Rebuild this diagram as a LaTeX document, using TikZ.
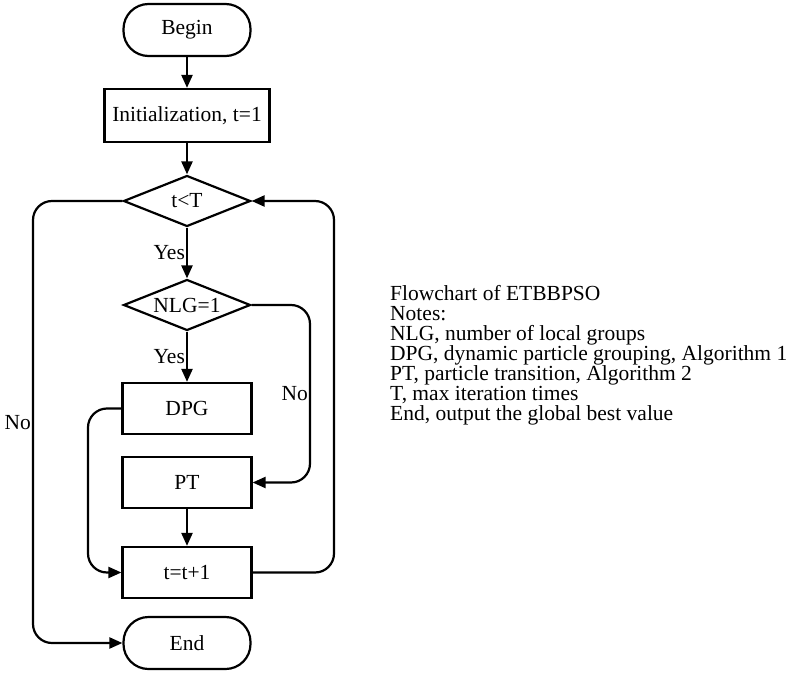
\documentclass[tikz,border=0pt]{standalone}
\usepackage{fontspec}
\setmainfont{Liberation Serif}
\usetikzlibrary{arrows.meta,shapes.geometric}
\begin{document}
\begin{tikzpicture}[x=1pt,y=-1pt,
  every node/.style={font=\fontsize{21.5}{20}\selectfont},
  arr/.style={line width=2.2pt,-{Triangle[length=13pt,width=11pt]}},
  term/.style={draw,line width=2.2pt,rounded corners=25pt,minimum width=127pt,minimum height=52pt,inner sep=0pt},
  box/.style={draw,line width=2.2pt,minimum width=129pt,minimum height=51pt,inner sep=0pt},
  dec/.style={draw,line width=2.2pt,diamond,aspect=2.5,minimum width=127pt,minimum height=51pt,inner sep=0pt},
  lbl/.style={inner sep=1pt}]
\useasboundingbox (0,0) rectangle (800,674);
\node[term] (begin) at (187,30) {Begin};
\node[box,minimum width=165pt,minimum height=53pt] (init) at (187,115.5) {Initialization, t=1};
\node[dec] (tT) at (187,201) {t<T};
\node[dec] (nlg) at (187,305) {NLG=1};
\node[box] (dpg) at (187,408.5) {DPG};
\node[box] (pt) at (187,482.5) {PT};
\node[box] (inc) at (187,572.5) {t=t+1};
\node[term] (end) at (187,643) {End};
\coordinate (c1) at (33,201);
\coordinate (c2) at (33,643);
\coordinate (c3) at (310,305);
\coordinate (c4) at (310,482.5);
\coordinate (c5) at (334,572.5);
\coordinate (c6) at (334,201);
\coordinate (c7) at (88,408.5);
\coordinate (c8) at (88,572.5);
\draw[arr] (begin) -- (init);
\draw[arr] (init) -- (tT);
\draw[arr] (tT) -- node[lbl,left,pos=0.5] {Yes} (nlg);
\draw[arr] (nlg) -- node[lbl,left,pos=0.5] {Yes} (dpg);
\draw[arr] (pt) -- (inc);
\draw[arr,rounded corners=19pt] (tT.west) -- (c1) -- (c2) -- (end.west);
\draw[arr,rounded corners=19pt] (nlg.east) -- (c3) -- (c4) -- (pt.east);
\draw[arr,rounded corners=19pt] (inc.east) -- (c5) -- (c6) -- (tT.east);
\draw[arr,rounded corners=19pt] (dpg.west) -- (c7) -- (c8) -- (inc.west);
\node[lbl,anchor=east] (no1) at (32,423) {No};
\node[lbl,anchor=east] (no2) at (309,394) {No};
\node[inner sep=0pt,anchor=west,align=left] (notes) at (390,355) {Flowchart of ETBBPSO\\
Notes:\\
NLG, number of local groups\\
DPG, dynamic particle grouping, Algorithm 1\\
PT, particle transition, Algorithm 2\\
T, max iteration times\\
End, output the global best value};
\end{tikzpicture}
\end{document}
